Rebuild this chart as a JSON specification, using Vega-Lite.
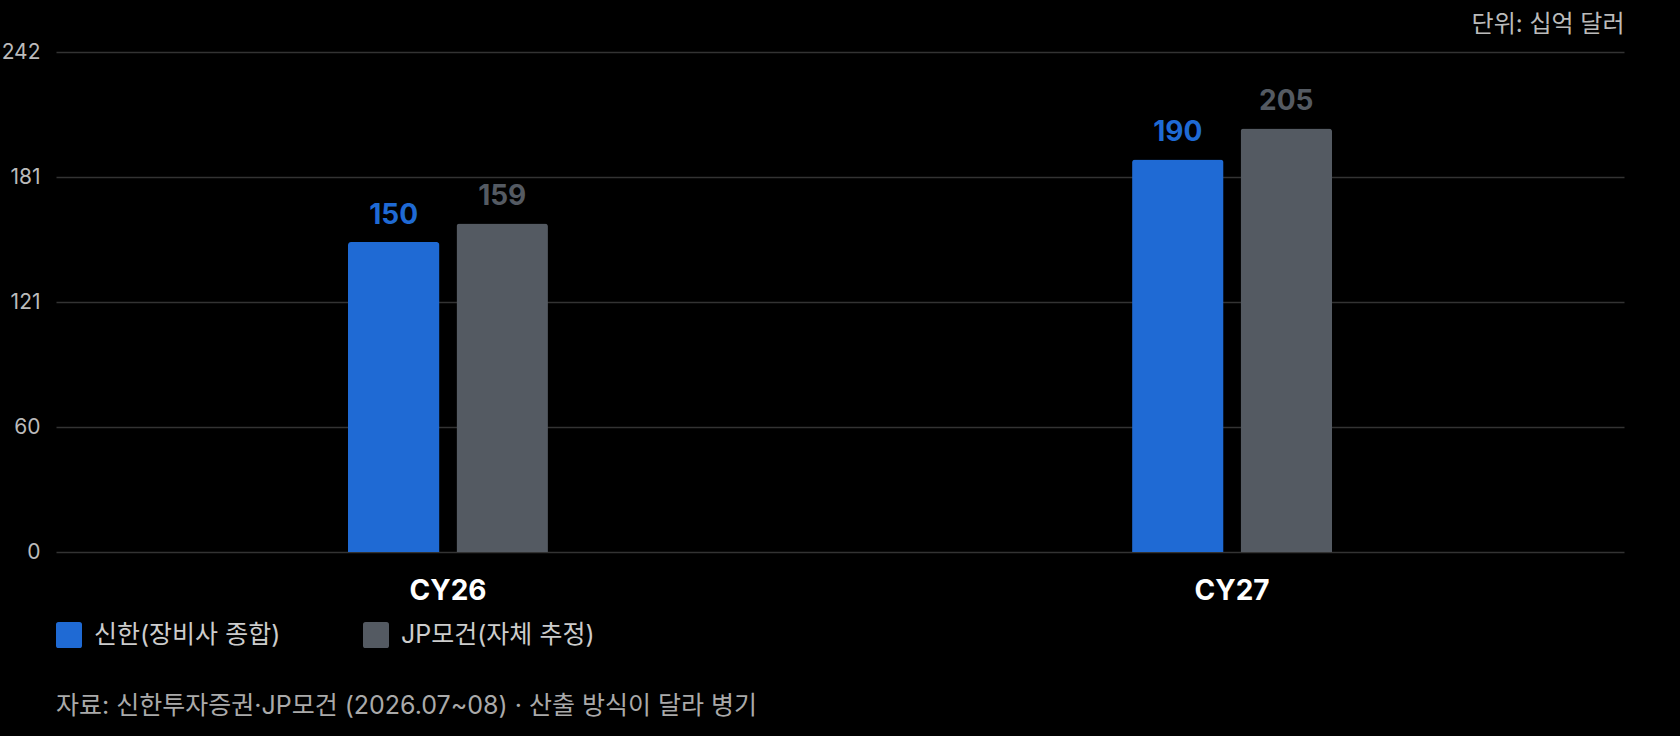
{
  "$schema": "https://vega.github.io/schema/vega-lite/v6.json",
  "width": 1568,
  "height": 500,
  "autosize": {"type": "none"},
  "padding": {"left": 56, "top": 52, "right": 56, "bottom": 184},
  "background": "#000000",
  "config": {
    "view": {"stroke": null},
    "font": "Inter, 'Noto Sans CJK KR', sans-serif"
  },
  "title": {
    "text": "자료: 신한투자증권·JP모건 (2026.07~08) · 산출 방식이 달라 병기",
    "orient": "bottom",
    "anchor": "start",
    "frame": "group",
    "offset": 46,
    "fontSize": 25,
    "fontWeight": "normal",
    "color": "#aaaaaa"
  },
  "data": {
    "values": [
      {"period": "CY26", "source": "신한(장비사 종합)", "value": 150},
      {"period": "CY26", "source": "JP모건(자체 추정)", "value": 159},
      {"period": "CY27", "source": "신한(장비사 종합)", "value": 190},
      {"period": "CY27", "source": "JP모건(자체 추정)", "value": 205}
    ]
  },
  "encoding": {
    "x": {
      "field": "period",
      "type": "nominal",
      "sort": ["CY26", "CY27"],
      "scale": {"paddingInner": 0.745, "paddingOuter": 0.3724},
      "axis": {
        "title": null,
        "labelAngle": 0,
        "labelFontSize": 28,
        "labelFontWeight": "bold",
        "labelColor": "#ffffff",
        "labelPadding": 25,
        "domain": false,
        "ticks": false
      }
    },
    "xOffset": {
      "field": "source",
      "type": "nominal",
      "sort": ["신한(장비사 종합)", "JP모건(자체 추정)"],
      "scale": {"paddingInner": 0.157, "paddingOuter": 0}
    },
    "y": {
      "field": "value",
      "type": "quantitative",
      "scale": {"domain": [0, 242], "nice": false},
      "axis": {
        "values": [0, 60.5, 121, 181.5, 242],
        "labelExpr": "floor(datum.value)",
        "grid": true,
        "gridColor": "#333333",
        "gridWidth": 1.5,
        "domain": false,
        "ticks": false,
        "labelPadding": 16,
        "labelFontSize": 21,
        "labelColor": "#bbbbbb",
        "title": "단위: 십억 달러",
        "titleAngle": 0,
        "titleX": 1568,
        "titleY": -28,
        "titleAlign": "right",
        "titleBaseline": "middle",
        "titleFontSize": 24,
        "titleFontWeight": "normal",
        "titleColor": "#bbbbbb"
      }
    },
    "color": {
      "field": "source",
      "type": "nominal",
      "scale": {
        "domain": ["신한(장비사 종합)", "JP모건(자체 추정)"],
        "range": ["#1f6ad4", "#545a62"]
      },
      "legend": {
        "orient": "none",
        "legendX": 0,
        "legendY": 570,
        "direction": "horizontal",
        "title": null,
        "symbolType": "M-0.8,-1H0.8Q1,-1,1,-0.8V0.8Q1,1,0.8,1H-0.8Q-1,1,-1,0.8V-0.8Q-1,-1,-0.8,-1Z",
        "symbolSize": 676,
        "symbolOpacity": 1,
        "symbolStrokeWidth": 0,
        "labelFontSize": 25,
        "labelColor": "#cccccc",
        "labelOffset": 12,
        "columnPadding": 82,
        "labelLimit": 400
      }
    }
  },
  "layer": [
    {"mark": {"type": "bar", "cornerRadiusTopLeft": 3, "cornerRadiusTopRight": 3}},
    {
      "mark": {"type": "text", "dy": -26, "fontSize": 28, "fontWeight": "bold"},
      "encoding": {"text": {"field": "value", "type": "quantitative"}}
    }
  ]
}
